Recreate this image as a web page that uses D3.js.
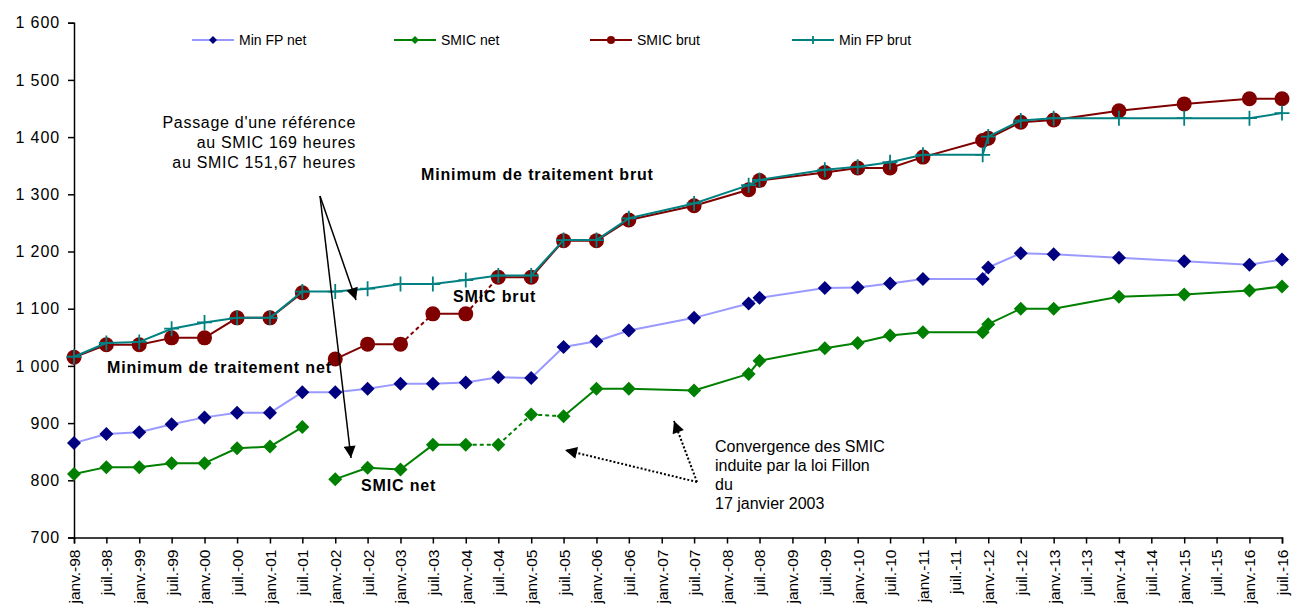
<!DOCTYPE html>
<html><head><meta charset="utf-8">
<script src="https://cdn.jsdelivr.net/npm/d3@7"></script>
<style>
html,body{margin:0;padding:0;background:#fff;}
svg{display:block;font-family:"Liberation Sans",Arial,sans-serif;}
</style></head>
<body>
<svg id="chart" width="1303" height="608"></svg>
<script>
// ---- data ----
const dates = ["1998-01","1998-07","1999-01","1999-07","2000-01","2000-07","2001-01","2001-07",
  "2002-01","2002-07","2003-01","2003-07","2004-01","2004-07","2005-01","2005-07","2006-01","2006-07",
  "2007-07","2008-05","2008-07","2009-07","2010-01","2010-07","2011-01","2011-12","2012-01","2012-07",
  "2013-01","2014-01","2015-01","2016-01","2016-07"];
const minFPnet  = [865,881,884,898,910,918,918,954,954,960,969,969,971,980,979,1033,1043,1062,
  1084,1109,1119,1136,1137,1144,1152,1152,1172,1197,1195,1189,1183,1177,1186];
const smicNet   = [811,823,823,830,830,856,859,893,802,822,819,862,862,862,915,912,960,960,
  957,986,1009,1031,1040,1053,1059,1059,1073,1100,1100,1121,1125,1132,1139];
const smicBrut  = [1015,1037,1037,1049,1049,1084,1084,1128,1012,1038,1038,1091,1091,1155,1155,1219,1219,1255,
  1280,1308,1324,1338,1346,1346,1365,1394,1398,1426,1430,1446,1458,1467,1467];
const minFPbrut = [1016,1040,1042,1065,1076,1084,1084,1130,1130,1135,1143,1143,1150,1158,1158,1220,1220,1258,
  1284,1316,1325,1343,1348,1356,1369,1369,1401,1429,1433,1433,1433,1433,1442];
// segment i joins point i and i+1
const smicNetBreaks = [7], smicNetDashed = [12,13,14];
const smicBrutBreaks = [7], smicBrutDashed = [10,12];
const seriesNames = ["Min FP net","SMIC net","SMIC brut","Min FP brut"];
const yTicks = [700,800,900,1000,1100,1200,1300,1400,1500,1600];
const monthAbbr = {0:"janv.",6:"juil."};

// ---- setup ----
const svg = d3.select("#chart");
const parse = d3.timeParse("%Y-%m");
const X0 = 74, X1 = 1282, Y0 = 537.5, Y1 = 22.7;
const x = d3.scaleTime().domain([parse("1998-01"), parse("2016-07")]).range([X0, X1]);
const y = d3.scaleLinear().domain([700,1600]).range([Y0, Y1]);
const dts = dates.map(parse);

const series = [
  {name:seriesNames[0], values:minFPnet, line:"#9999FF", mark:"#000080", type:"diamond", breaks:[], dashed:[]},
  {name:seriesNames[1], values:smicNet, line:"#008000", mark:"#008000", type:"diamond", breaks:smicNetBreaks, dashed:smicNetDashed},
  {name:seriesNames[2], values:smicBrut, line:"#800000", mark:"#800000", type:"circle", breaks:smicBrutBreaks, dashed:smicBrutDashed},
  {name:seriesNames[3], values:minFPbrut, line:"#008080", mark:"#008080", type:"plus", breaks:[], dashed:[]}
];

// ---- axes ----
const locale = d3.formatLocale({decimal:",", thousands:" ", grouping:[3], currency:["","€"]});
const yAxis = d3.axisLeft(y).tickValues(yTicks).tickSize(6).tickPadding(8).tickFormat(locale.format(","));
const gy = svg.append("g").attr("transform",`translate(${X0},0)`).call(yAxis);
gy.select(".domain").attr("stroke","#000").attr("stroke-width",1.5);
gy.selectAll(".tick line").attr("stroke","#000").attr("stroke-width",1.5);
gy.selectAll(".tick text").attr("font-size",16).attr("fill","#000").attr("letter-spacing","0.9px")
  .attr("font-family","'Liberation Sans',Arial,sans-serif");

const xTicks = d3.timeMonth.every(6).range(parse("1998-01"), d3.timeDay.offset(parse("2016-07"),1));
const xAxis = d3.axisBottom(x).tickValues(xTicks).tickSize(6).tickPadding(0)
  .tickFormat(d => monthAbbr[d.getMonth()] + "-" + d3.timeFormat("%y")(d));
const gx = svg.append("g").attr("transform",`translate(0,${Y0})`).call(xAxis);
gx.select(".domain").attr("stroke","#000").attr("stroke-width",1.5);
gx.selectAll(".tick line").attr("stroke","#000").attr("stroke-width",1.5);
gx.selectAll(".tick text").attr("font-size",15.5).attr("fill","#000")
  .attr("font-family","'Liberation Sans',Arial,sans-serif")
  .attr("text-anchor","end").attr("dy","0.35em")
  .attr("transform","translate(0,12) rotate(-90)").attr("x",0).attr("y",0);

// ---- series ----
const line = d3.line().x(d => x(d[0])).y(d => y(d[1]));
function drawMarker(g, type, color, cx, cy, s) {
  if (type === "diamond") {
    g.append("path").attr("d",`M${cx},${cy-s}L${cx+s},${cy}L${cx},${cy+s}L${cx-s},${cy}Z`).attr("fill",color);
  } else if (type === "circle") {
    g.append("circle").attr("cx",cx).attr("cy",cy).attr("r",s).attr("fill",color);
  } else {
    g.append("path").attr("d",`M${cx-s},${cy}H${cx+s}M${cx},${cy-s}V${cy+s}`)
      .attr("stroke",color).attr("stroke-width",1.8).attr("fill","none");
  }
}
const markSize = {diamond:7, circle:7.5, plus:7.5};
series.forEach(s => {
  const g = svg.append("g");
  for (let i = 0; i < s.values.length - 1; i++) {
    if (s.breaks.includes(i)) continue;
    g.append("path").attr("d", line([[dts[i], s.values[i]],[dts[i+1], s.values[i+1]]]))
      .attr("stroke", s.line).attr("stroke-width", 2).attr("fill","none")
      .attr("stroke-dasharray", s.dashed.includes(i) ? "4,3" : null);
  }
  s.values.forEach((v,i) => drawMarker(g, s.type, s.mark, x(dts[i]), y(v), markSize[s.type]));
});

// ---- legend ----
const legX = [192, 394, 590, 792];
series.forEach((s,i) => {
  const g = svg.append("g").attr("transform",`translate(${legX[i]},40)`);
  g.append("line").attr("x1",0).attr("x2",42).attr("y1",0).attr("y2",0).attr("stroke",s.line).attr("stroke-width",1.8);
  drawMarker(g, s.type, s.mark, 21, 0, 4);
  g.append("text").attr("x",47).attr("y",5).attr("font-size",14).attr("fill","#000").text(s.name);
});

// ---- annotations ----
const defs = svg.append("defs");
defs.append("marker").attr("id","ah").attr("viewBox","0 0 10 10").attr("refX",10).attr("refY",5)
  .attr("markerWidth",14).attr("markerHeight",12).attr("markerUnits","userSpaceOnUse").attr("orient","auto")
  .append("path").attr("d","M0,0L10,5L0,10Z").attr("fill","#000");
const ann = svg.append("g").attr("fill","#000");
[["Passage d'une référence",128],["au SMIC 169 heures",148],["au SMIC 151,67 heures",168]].forEach(([t,yy]) =>
  ann.append("text").attr("x",356).attr("y",yy).attr("text-anchor","end").attr("font-size",16)
    .attr("letter-spacing","0.7px").text(t));
[["Convergence des SMIC",452],["induite par la loi Fillon",471],["du",490],["17 janvier 2003",509]].forEach(([t,yy]) =>
  ann.append("text").attr("x",715).attr("y",yy).attr("font-size",16).text(t));
[["Minimum de traitement brut",421,180],["Minimum de traitement net",107,373],["SMIC brut",453,302],["SMIC net",361,491]]
  .forEach(([t,xx,yy]) => ann.append("text").attr("x",xx).attr("y",yy).attr("font-size",16)
    .attr("font-weight","bold").attr("letter-spacing","0.85px").text(t));

[[356,300],[351,458]].forEach(([tx,ty]) =>
  svg.append("line").attr("x1",320).attr("y1",196).attr("x2",tx).attr("y2",ty)
    .attr("stroke","#000").attr("stroke-width",1.5).attr("marker-end","url(#ah)"));
[[565,450],[674,421]].forEach(([tx,ty]) =>
  svg.append("line").attr("x1",697).attr("y1",482).attr("x2",tx).attr("y2",ty)
    .attr("stroke","#000").attr("stroke-width",2).attr("stroke-dasharray","2,2").attr("marker-end","url(#ah)"));
</script>
</body></html>
